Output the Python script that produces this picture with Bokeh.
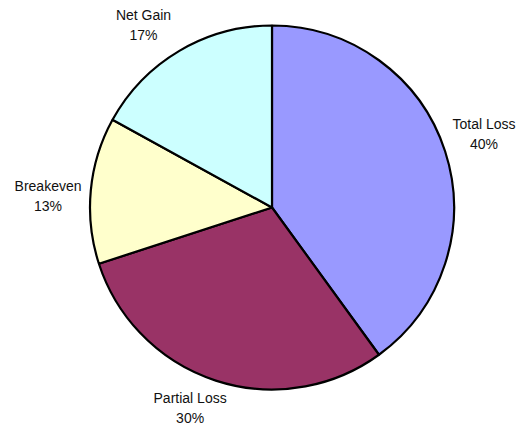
import math
from bokeh.plotting import figure
from bokeh.models import Range1d, ColumnDataSource
from bokeh.core.properties import value
from bokeh.embed import file_html
from bokeh.resources import INLINE

categories = ["Total Loss", "Partial Loss", "Breakeven", "Net Gain"]
shares = [40, 30, 13, 17]
colors = ["#9999FF", "#993366", "#FFFFCC", "#CCFFFF"]

W, H = 519, 431
cx, cy = 271.5, 207  # pie centre in figure pixels (from top-left)
R = 182

# small per-label nudges (pixels) to mimic the original label placement
nudges = {"Total Loss": (0, 5), "Partial Loss": (-13, 12),
          "Breakeven": (-2, -9), "Net Gain": (-15, -9)}

p = figure(width=W, height=H, output_backend="svg", toolbar_location=None,
           x_range=Range1d(-cx, W - cx), y_range=Range1d(-(H - cy), cy),
           min_border=0)
p.axis.visible = False
p.grid.visible = False
p.outline_line_color = None
p.background_fill_color = "white"

total = sum(shares)
starts, ends, lx, ly, names, pcts = [], [], [], [], [], []
cum = 0
for c, s in zip(categories, shares):
    a0 = math.pi / 2 - 2 * math.pi * cum / total
    cum += s
    a1 = math.pi / 2 - 2 * math.pi * cum / total
    starts.append(a0)
    ends.append(a1)
    mid = (a0 + a1) / 2
    f = 1.225
    nx, ny = nudges[c]
    lx.append(R * f * math.cos(mid) + nx)
    ly.append(R * f * math.sin(mid) + ny)
    names.append(c)
    pcts.append(f"{round(100 * s / total)}%")

src = ColumnDataSource(dict(start=starts, end=ends, color=colors,
                            lx=lx, ly=ly, name=names, pct=pcts))
p.wedge(x=0, y=0, radius=R, start_angle="start", end_angle="end",
        direction="clock", fill_color="color", line_color="black",
        line_width=2.2, source=src)

p.text(x="lx", y="ly", text="name", x_offset=0, y_offset=-10, source=src,
       text_font=value("Liberation Sans"), text_font_size="14px",
       text_align="center", text_baseline="middle", text_color="#111111")
p.text(x="lx", y="ly", text="pct", x_offset=0, y_offset=10, source=src,
       text_font=value("Liberation Sans"), text_font_size="14px",
       text_align="center", text_baseline="middle", text_color="#111111")

open("out.html", "w").write(file_html(p, INLINE))
